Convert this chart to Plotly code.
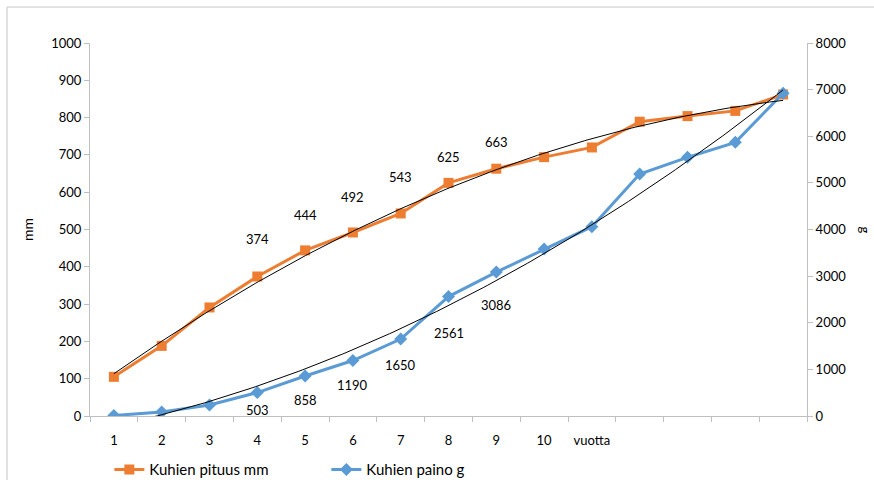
"""Kuhien pituus ja paino iän mukaan."""

import numpy as np
import plotly.graph_objects as go

ORANGE = "#ED7D31"
BLUE = "#5B9BD5"
AXIS_GREY = "#BFBFBF"
FONT = "Lato, 'Open Sans', sans-serif"

# data
ages = list(range(1, 16))
length_mm = [105, 188, 291, 374, 444, 492, 543, 625, 663, 694, 720, 789, 804, 818, 862]
weight_g = [10, 85, 236, 503, 858, 1190, 1650, 2561, 3086, 3582, 4061, 5190, 5548, 5870, 6921]
tick_labels = ["1", "2", "3", "4", "5", "6", "7", "8", "9", "10", "vuotta"]

# labelled points (index into the series) and their pixel offsets
length_label_idx = [3, 4, 5, 6, 7, 8]
length_label_shift = [38, 35, 35, 36, 26, 27]
weight_label_idx = [3, 4, 5, 6, 7, 8]
weight_label_shift = [-17, -24, -24, -26, -36, -33]

L, R, T, B = 90, 67, 43, 64
W, H = 874, 480
PW, PH = W - L - R, H - T - B
XR = [0.5, len(ages) + 0.5]


def trend(y, deg=2):
    coef = np.polyfit(ages, y, deg)
    xs = np.linspace(ages[0], ages[-1], 200)
    return xs, np.polyval(coef, xs)


fig = go.Figure()

tx, ty = trend(length_mm)
fig.add_trace(go.Scatter(x=tx, y=ty, mode="lines", line=dict(color="black", width=1),
                         showlegend=False, hoverinfo="skip", xaxis="x2"))
tx, ty = trend(weight_g)
fig.add_trace(go.Scatter(x=tx, y=ty, mode="lines", line=dict(color="black", width=1),
                         showlegend=False, hoverinfo="skip", xaxis="x2", yaxis="y2"))

fig.add_trace(
    go.Scatter(
        x=ages, y=length_mm, mode="lines+markers", name="Kuhien pituus mm",
        line=dict(color=ORANGE, width=3),
        marker=dict(symbol="square", size=10, color=ORANGE),
    )
)
fig.add_trace(
    go.Scatter(
        x=ages, y=weight_g, mode="lines+markers", name="Kuhien paino g",
        line=dict(color=BLUE, width=3),
        marker=dict(symbol="diamond", size=10, color=BLUE),
        yaxis="y2",
    )
)

annotations = []
for i, s in zip(length_label_idx, length_label_shift):
    annotations.append(dict(x=ages[i], y=length_mm[i], text=str(length_mm[i]), showarrow=False,
                            yshift=s, xref="x", yref="y"))
for i, s in zip(weight_label_idx, weight_label_shift):
    annotations.append(dict(x=ages[i], y=weight_g[i], text=str(weight_g[i]), showarrow=False,
                            yshift=s, xref="x", yref="y2"))
annotations.append(dict(x=(W - 9 - L) / PW, y=0.5, xref="paper", yref="paper", text="g",
                        textangle=90, showarrow=False, xanchor="center", font=dict(size=13)))

axis_common = dict(showgrid=False, zeroline=False, showline=True, linecolor=AXIS_GREY,
                   linewidth=1, ticks="outside", tickcolor=AXIS_GREY, ticklen=5,
                   tickwidth=1, automargin=False)

fig.update_layout(
    width=W, height=H,
    margin=dict(l=L, r=R, t=T, b=B, autoexpand=False),
    paper_bgcolor="white", plot_bgcolor="white",
    font=dict(family=FONT, size=13, color="black"),
    xaxis=dict(
        range=XR, tickvals=list(range(1, len(tick_labels) + 1)), ticktext=tick_labels,
        showgrid=False, zeroline=False, showline=True, linecolor=AXIS_GREY, ticks="",
        ticklabelstandoff=12, automargin=False,
    ),
    xaxis2=dict(
        range=XR, overlaying="x", side="bottom", tickvals=[v + 0.5 for v in range(len(ages) + 1)],
        showticklabels=False, showgrid=False, zeroline=False, showline=False,
        ticks="outside", tickcolor=AXIS_GREY, ticklen=5, automargin=False,
    ),
    yaxis=dict(range=[0, 1000], dtick=100,
               title=dict(text="mm", standoff=14, font=dict(size=14)), **axis_common),
    yaxis2=dict(range=[0, 8000], dtick=1000, overlaying="y", side="right", **axis_common),
    legend=dict(orientation="h", x=0.027, xanchor="left", y=-0.1, yanchor="top",
                font=dict(size=15), tracegroupgap=0, entrywidth=172, entrywidthmode="pixels"),
    annotations=annotations,
    shapes=[
        dict(type="line", xref="paper", yref="paper", x0=(7 - L) / PW, x1=(W - L) / PW,
             y0=(H - B - 7) / PH, y1=(H - B - 7) / PH, line=dict(color="#D9D9D9", width=1.5)),
        dict(type="line", xref="paper", yref="paper", x0=(7 - L) / PW, x1=(7 - L) / PW,
             y0=(H - B - 7) / PH, y1=-B / PH, line=dict(color="#D9D9D9", width=1.5)),
    ],
)

# the page's default body margin would shift the figure, so drop it
fig.write_html("out.html", config={"displayModeBar": False},
               post_script="document.body.style.margin='0';")
